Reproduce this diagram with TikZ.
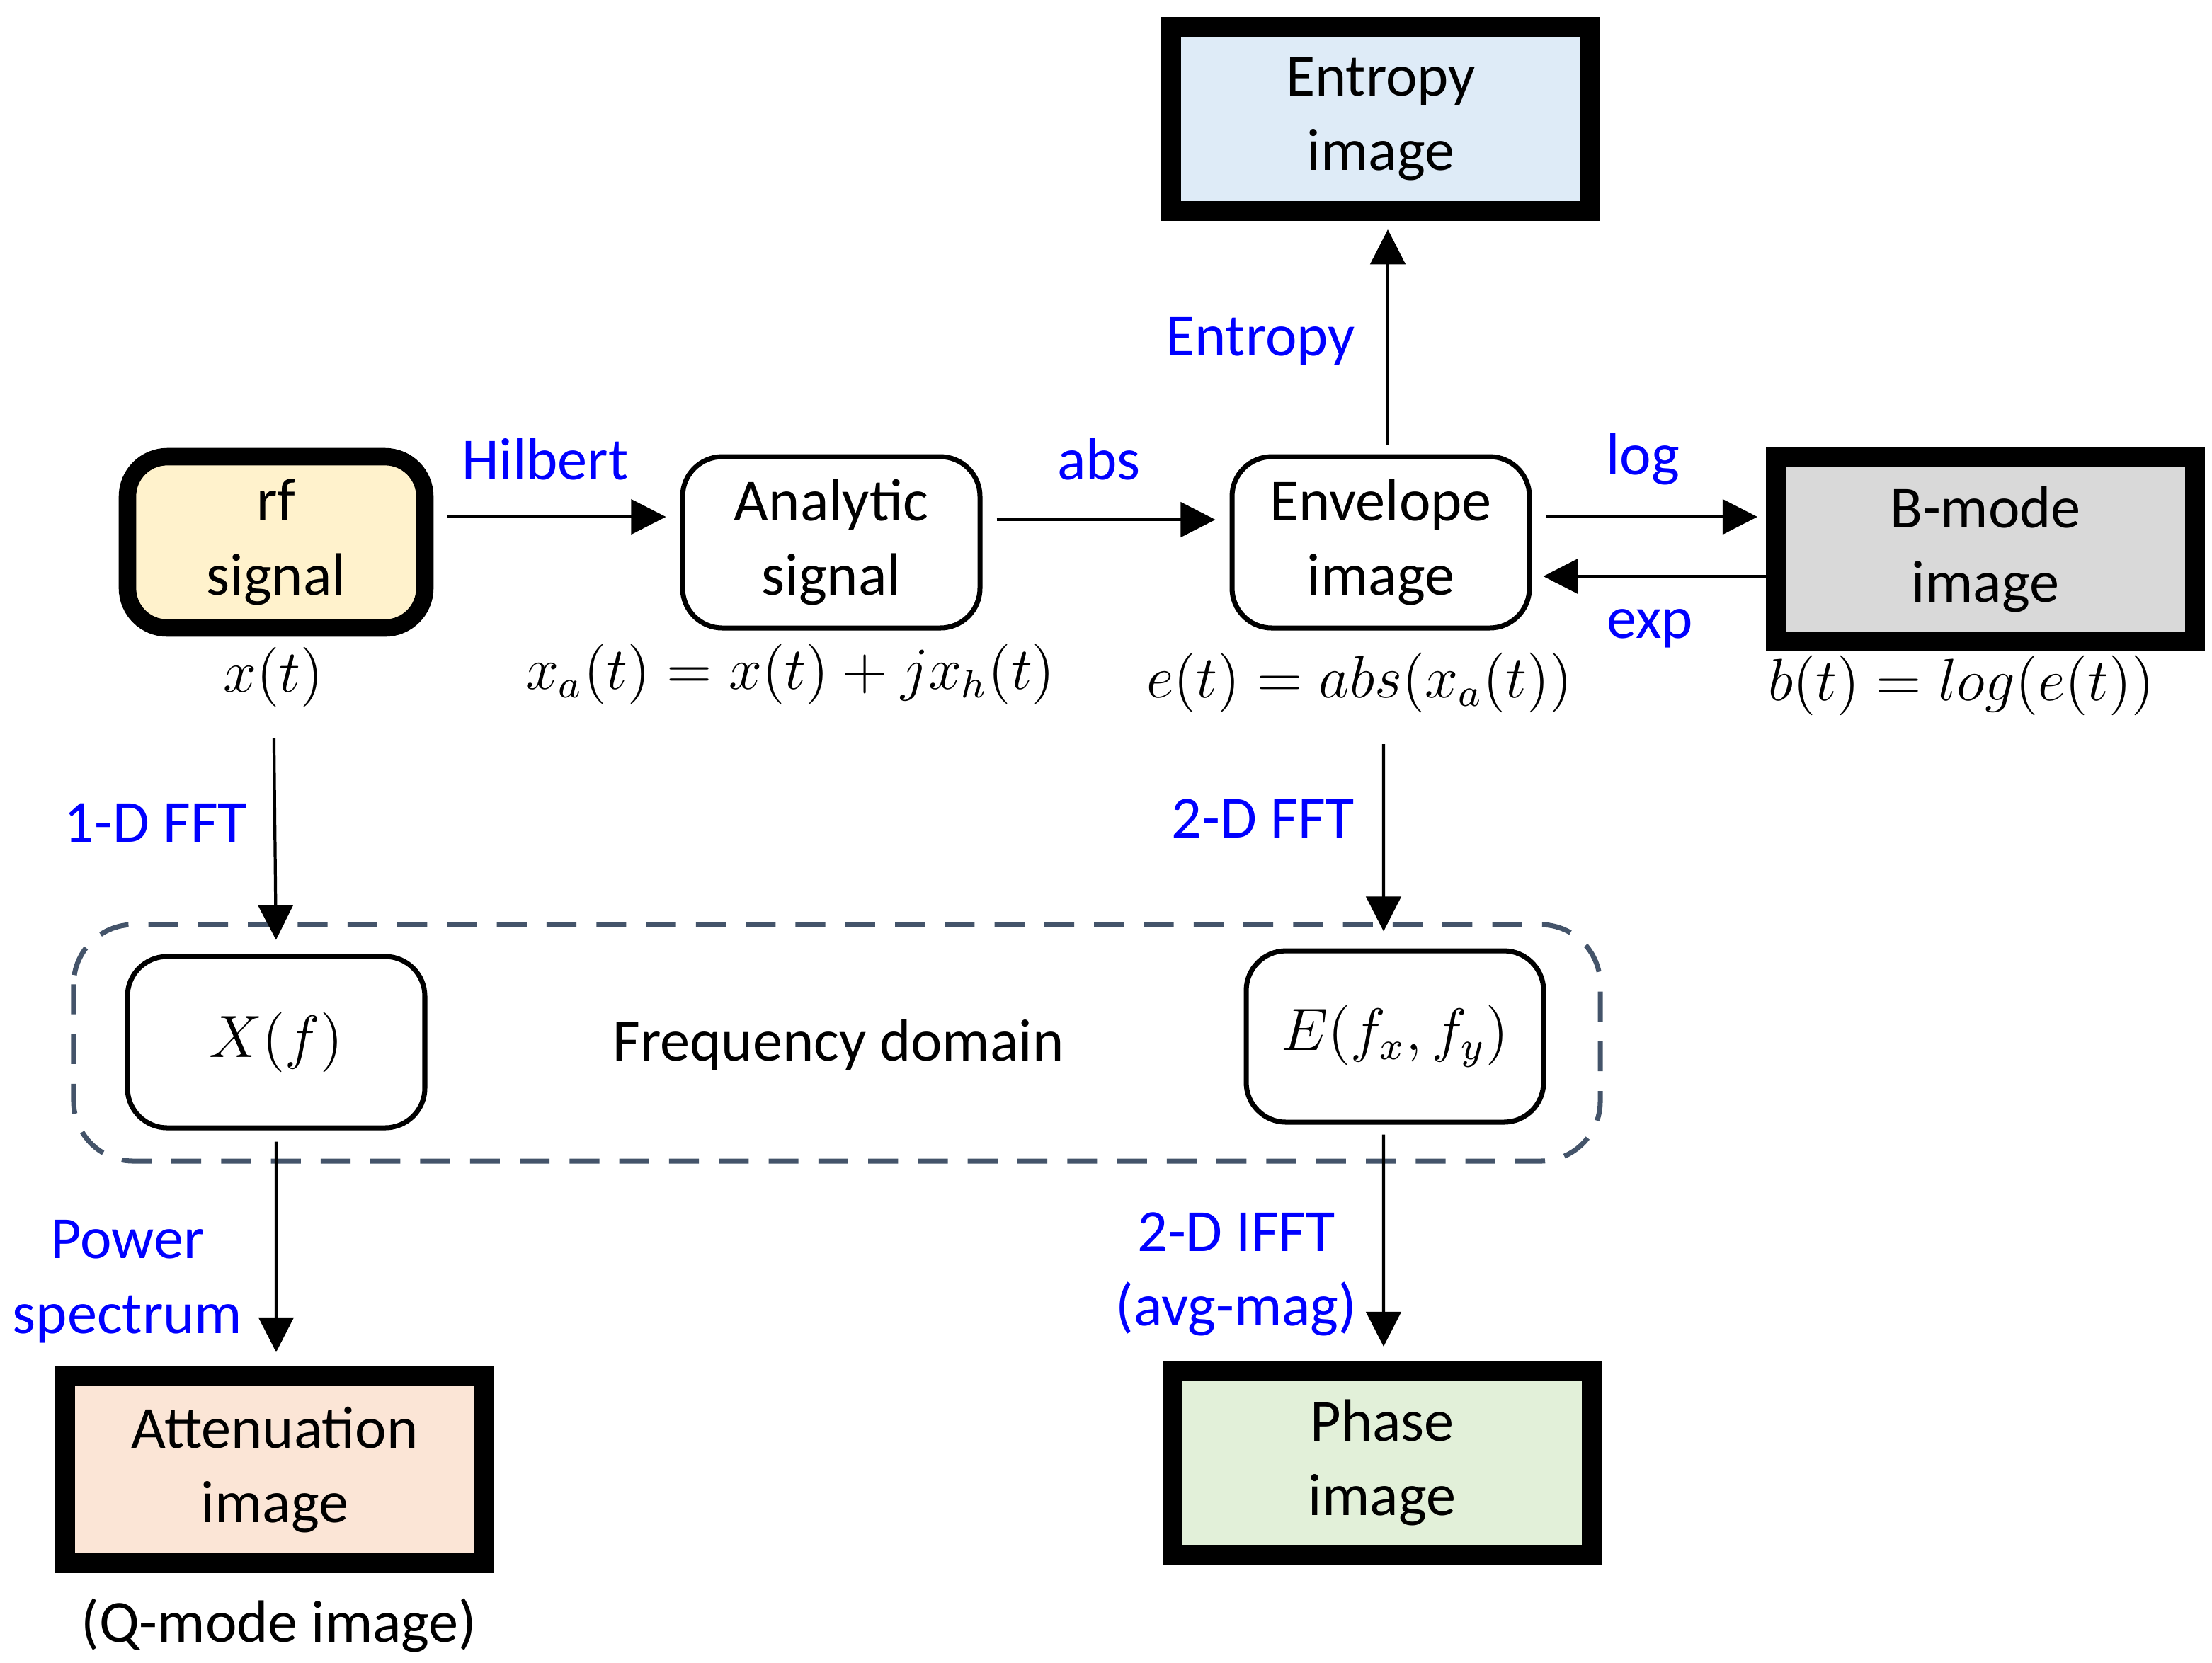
\documentclass[tikz,border=0pt]{standalone}
\usepackage{fontspec}
\setmainfont{Carlito}
\usepackage{amsmath}
\usetikzlibrary{arrows.meta}
\definecolor{rfcol}{HTML}{FFF2CC}
\definecolor{entcol}{HTML}{DEEBF7}
\definecolor{bmcol}{HTML}{D9D9D9}
\definecolor{attcol}{HTML}{FBE5D6}
\definecolor{phcol}{HTML}{E2F0D9}
\definecolor{dashcol}{HTML}{44546A}
\tikzset{box/.style={draw, rounded corners=8pt, line width=1pt, minimum width=2.1cm, minimum height=1.21cm, align=center, font=\fontsize{12}{15}\selectfont}}
\tikzset{outbox/.style={draw, line width=4pt, minimum width=2.96cm, minimum height=1.3cm, align=center, font=\fontsize{12}{15}\selectfont}}
\tikzset{lab/.style={text=blue, font=\fontsize{12}{15}\selectfont, align=center}}
\tikzset{arr/.style={-{Triangle[length=7pt,width=7pt]}, line width=0.6pt}}

\begin{document}
\begin{tikzpicture}
  \useasboundingbox (0,0) rectangle (15.62,-11.74);
  % frequency domain frame
  \draw[dashcol, dashed, line width=1pt, rounded corners=12pt, dash pattern=on 6pt off 4pt] (0.52,-6.53) rectangle (11.30,-8.20);
  \node[font=\fontsize{12}{15}\selectfont] (freq) at (5.92,-7.38) {Frequency domain};

  % boxes
  \node[box, line width=3.5pt, fill=rfcol] (rf) at (1.95,-3.83) {rf\\signal};
  \node[box] (ana) at (5.87,-3.83) {Analytic\\signal};
  \node[box] (env) at (9.75,-3.83) {Envelope\\image};
  \node[outbox, fill=bmcol] (bm) at (14.02,-3.88) {B-mode\\image};
  \node[outbox, fill=entcol] (ent) at (9.75,-0.84) {Entropy\\image};
  \node[box] (xf) at (1.95,-7.36) {$X(f)$};
  \node[box] (ef) at (9.85,-7.32) {$E(f_x,f_y)$};
  \node[outbox, fill=attcol, minimum height=1.32cm] (att) at (1.94,-10.38) {Attenuation\\image};
  \node[outbox, fill=phcol] (ph) at (9.76,-10.33) {Phase\\image};

  % formulas
  \node[font=\large] (xt) at (1.93,-4.78) {$x(t)$};
  \node[font=\large] (xa) at (5.58,-4.76) {$x_a(t)=x(t)+jx_h(t)$};
  \node[font=\large] (et) at (9.60,-4.82) {$e(t)=abs(x_a(t))$};
  \node[font=\large] (bt) at (13.85,-4.84) {$b(t)=log(e(t))$};
  \node[font=\fontsize{12}{15}\selectfont] (qm) at (1.97,-11.48) {(Q-mode image)};

  % connectors
  \draw[arr, shorten <=0.1cm, shorten >=0.1cm] ([yshift=0.18cm]rf.east) -- ([yshift=0.18cm]ana.west);
  \draw[arr, shorten <=0.1cm, shorten >=0.1cm] ([yshift=0.16cm]ana.east) -- ([yshift=0.16cm]env.west);
  \draw[arr, shorten <=0.1cm, shorten >=0.06cm] ([yshift=0.18cm]env.east) -- ([yshift=0.23cm]bm.west);
  \draw[arr, shorten >=0.08cm] ([yshift=-0.19cm]bm.west) -- ([yshift=-0.24cm]env.east);
  \draw[arr, shorten <=0.07cm, shorten >=0.06cm] ([xshift=0.05cm]env.north) -- ([xshift=0.05cm]ent.south);
  \draw[arr, shorten <=0.1cm, shorten >=0.1cm] (xt) -- (xf.north);
  \draw[arr, shorten <=0.1cm, shorten >=0.12cm] ([xshift=0.17cm]et.south) -- ([xshift=-0.08cm]ef.north);
  \draw[arr, shorten <=0.08cm, shorten >=0.1cm] (xf.south) -- ([xshift=0.01cm]att.north);
  \draw[arr, shorten <=0.07cm, shorten >=0.1cm] ([xshift=-0.08cm]ef.south) -- ([xshift=0.01cm]ph.north);

  % labels
  \node[lab] (lhil) at (3.85,-3.24) {Hilbert};
  \node[lab] (labs) at (7.76,-3.24) {abs};
  \node[lab] (llog) at (11.60,-3.24) {log};
  \node[lab] (lexp) at (11.65,-4.44) {exp};
  \node[lab] (lent) at (8.90,-2.41) {Entropy};
  \node[lab] (lfft1) at (1.10,-5.81) {1-D FFT};
  \node[lab] (lfft2) at (8.92,-5.78) {2-D FFT};
  \node[lab] (lpow) at (0.90,-9.05) {Power\\spectrum};
  \node[lab] (lifft) at (8.73,-9.00) {2-D IFFT\\(avg-mag)};
\end{tikzpicture}
\end{document}
